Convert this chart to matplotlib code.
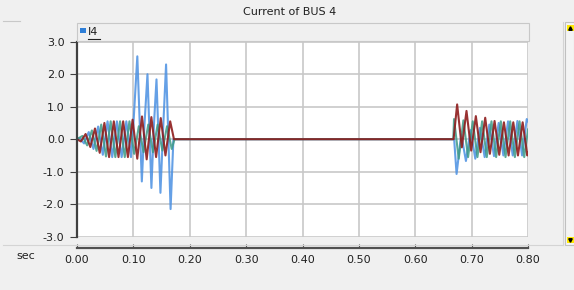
import matplotlib
matplotlib.use("Agg")
import matplotlib.pyplot as plt
from matplotlib.lines import Line2D
from matplotlib.patches import Rectangle

plt.rcParams['font.family'] = ['DejaVu Sans']

# ---- data (sec, per unit) ----
t_blue = [0.0, 0.0042, 0.0125, 0.0208, 0.0292, 0.0375, 0.0458, 0.0542, 0.0625, 0.0708,
          0.0792, 0.0875, 0.0958, 0.1000, 0.1070, 0.1150, 0.1195, 0.1250, 0.1320, 0.1365,
          0.1410, 0.1480, 0.1530, 0.1580, 0.1660, 0.1710, 0.6690, 0.6733, 0.6816, 0.6899,
          0.6982, 0.7065, 0.7148, 0.7231, 0.7314, 0.7397, 0.7480, 0.7563, 0.7646, 0.7729,
          0.7812, 0.7895, 0.7978, 0.8000]
i_blue = [0.0, 0.04, -0.13, 0.22, -0.30, 0.39, -0.48, 0.55, -0.55, 0.55,
          -0.55, 0.55, -0.55, 0.45, 2.55, -1.30, 0.40, 2.00, -1.50, 0.45,
          1.84, -1.65, 0.40, 2.30, -2.15, 0.0, 0.0, -1.07, 0.15, -0.67,
          0.28, -0.60, 0.35, -0.55, 0.45, -0.52, 0.50, -0.50, 0.55, -0.50,
          0.56, -0.50, 0.62, 0.55]

t_teal = [0.0, 0.0097, 0.0180, 0.0264, 0.0347, 0.0430, 0.0514, 0.0597, 0.0680, 0.0764,
          0.0847, 0.0930, 0.1014, 0.1097, 0.1180, 0.1264, 0.1347, 0.1430, 0.1514, 0.1597,
          0.1680, 0.1730, 0.6675, 0.6688, 0.6771, 0.6854, 0.6937, 0.7020, 0.7103, 0.7186,
          0.7269, 0.7352, 0.7435, 0.7518, 0.7601, 0.7684, 0.7767, 0.7850, 0.7933, 0.8000]
i_teal = [0.0, 0.10, -0.19, 0.27, -0.36, 0.45, -0.53, 0.55, -0.55, 0.55,
          -0.55, 0.55, -0.45, 0.40, -0.40, 0.45, -0.40, 0.45, -0.35, 0.40,
          -0.30, 0.0, 0.0, 0.62, -0.60, 0.58, -0.55, 0.55, -0.55, 0.55,
          -0.55, 0.55, -0.55, 0.55, -0.55, 0.55, -0.55, 0.55, -0.55, 0.30]

t_red = [0.0, 0.0069, 0.0153, 0.0236, 0.0319, 0.0403, 0.0486, 0.0569, 0.0653, 0.0736,
         0.0819, 0.0903, 0.0986, 0.1069, 0.1153, 0.1236, 0.1319, 0.1403, 0.1486, 0.1569,
         0.1653, 0.1720, 0.6680, 0.6743, 0.6826, 0.6909, 0.6992, 0.7075, 0.7158, 0.7241,
         0.7324, 0.7407, 0.7490, 0.7573, 0.7656, 0.7739, 0.7822, 0.7905, 0.7988, 0.8000]
i_red = [0.0, -0.07, 0.16, -0.24, 0.33, -0.42, 0.50, -0.55, 0.55, -0.55,
         0.55, -0.55, 0.60, -0.60, 0.70, -0.62, 0.68, -0.55, 0.65, -0.50,
         0.55, 0.0, 0.0, 1.07, -0.25, 0.87, -0.35, 0.71, -0.40, 0.66,
         -0.45, 0.56, -0.48, 0.52, -0.50, 0.52, -0.50, 0.52, -0.50, -0.40]

x_ticks = [0.0, 0.1, 0.2, 0.3, 0.4, 0.5, 0.6, 0.7, 0.8]
y_ticks = [-3.0, -2.0, -1.0, 0.0, 1.0, 2.0, 3.0]

W, H = 574, 290
BG = '#f0f0f0'


def fx(px):
    return px / W


def fy(py):
    return 1 - py / H


fig = plt.figure(figsize=(W / 100, H / 100), dpi=100, facecolor=BG)

# panel frame lines
fig.add_artist(Line2D([fx(3), fx(563)], [fy(245), fy(245)], color='#d4d4d4', lw=0.8))
fig.add_artist(Line2D([fx(563), fx(563)], [fy(22), fy(245)], color='#d4d4d4', lw=0.8))
fig.add_artist(Line2D([fx(3), fx(20)], [fy(21), fy(21)], color='#c8c8c8', lw=0.8))

fig.text(fx(290), fy(12), 'Current of BUS 4', ha='center', va='center', fontsize=8, color='#202020')

# legend strip
fig.add_artist(Rectangle((fx(77), fy(41)), fx(452), fy(23) - fy(41), facecolor='#f0f0f0',
                         edgecolor='#c8c8c8', lw=0.8))
fig.add_artist(Rectangle((fx(80), fy(33)), fx(6), fy(28) - fy(33), facecolor='#2f7fd8',
                         edgecolor='none'))
fig.text(fx(88), fy(32), 'I4', ha='left', va='center', fontsize=8, color='#202020')
fig.add_artist(Line2D([fx(88), fx(100)], [fy(38.5), fy(38.5)], color='#202020', lw=0.8))

# scrollbar on the right
fig.add_artist(Rectangle((fx(565), fy(245)), fx(9), fy(22) - fy(245), facecolor='#f4f4f4',
                         edgecolor='#c0c0c0', lw=0.8))
for yy, mk in [(28, '^'), (240, 'v')]:
    fig.add_artist(Rectangle((fx(567), fy(yy + 3)), fx(7), fy(yy - 3) - fy(yy + 3),
                             facecolor='#ffe800', edgecolor='none'))
    fig.add_artist(Line2D([fx(570)], [fy(yy)], marker=mk, color='black', markersize=2.5, lw=0))

# main plot
ax = fig.add_axes([fx(77), fy(236.7), fx(451), fy(41.7) - fy(236.7)])
ax.set_facecolor('white')
ax.plot(t_blue, i_blue, color='#4a90e2', lw=1.5, alpha=0.85)
ax.plot(t_teal, i_teal, color='#3d9a86', lw=1.5, alpha=0.85)
ax.plot(t_red, i_red, color='#8e1c1c', lw=1.5, alpha=0.9)
ax.set_xlim(0, 0.8)
ax.set_ylim(-3, 3)
ax.set_xticks(x_ticks)
ax.set_yticks(y_ticks)
ax.set_yticklabels(['%.1f' % v for v in y_ticks])
ax.grid(True, color='#c8c8c8', lw=1.2)
ax.set_axisbelow(True)
for s in ['top', 'right', 'bottom']:
    ax.spines[s].set_visible(False)
ax.spines['left'].set_color('#404040')
ax.spines['left'].set_linewidth(1.6)
ax.tick_params(axis='x', bottom=False, labelbottom=False)
ax.tick_params(axis='y', length=5, width=0.8, color='#404040', pad=4, labelsize=8,
               labelcolor='#202020')

# separate time axis below
ax2 = fig.add_axes([fx(77), fy(248), fx(451), 0.0001])
ax2.set_xlim(0, 0.8)
ax2.set_xticks(x_ticks)
ax2.set_xticklabels(['%.2f' % v for v in x_ticks])
ax2.set_yticks([])
ax2.patch.set_visible(False)
for s in ['top', 'right', 'left']:
    ax2.spines[s].set_visible(False)
ax2.spines['bottom'].set_color('#505050')
ax2.spines['bottom'].set_linewidth(1.6)
ax2.tick_params(axis='x', direction='in', length=3, width=0.8, color='#505050', pad=5,
                labelsize=8, labelcolor='#202020')
fig.text(fx(26), fy(256), 'sec', ha='center', va='center', fontsize=8, color='#202020')

fig.savefig('out.png', dpi=100, facecolor=BG)
